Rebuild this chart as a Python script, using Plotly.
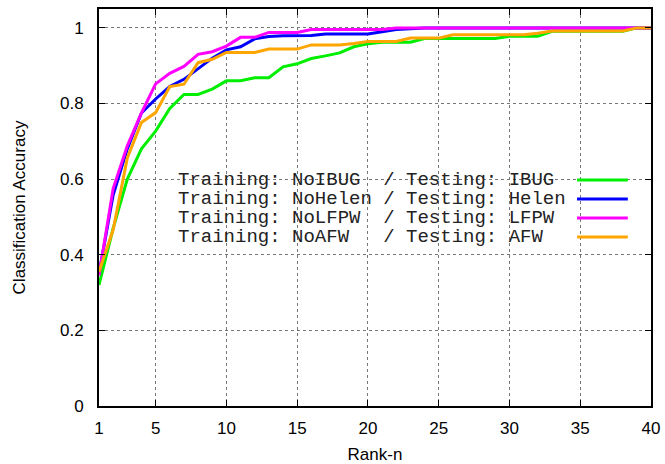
import plotly.graph_objects as go

rank = list(range(1, 41))

ibug = [0.32, 0.47, 0.60, 0.68, 0.727, 0.787, 0.824, 0.824, 0.838, 0.860,
        0.860, 0.868, 0.868, 0.897, 0.905, 0.919, 0.926, 0.934, 0.950, 0.958,
        0.962, 0.962, 0.962, 0.972, 0.972, 0.972, 0.972, 0.972, 0.972, 0.978,
        0.978, 0.978, 0.991, 0.991, 0.991, 0.991, 0.991, 0.991, 1.0, 1.0]

helen = [0.35, 0.558, 0.68, 0.775, 0.812, 0.845, 0.864, 0.893, 0.92, 0.942,
         0.95, 0.971, 0.977, 0.979, 0.979, 0.98, 0.984, 0.984, 0.984, 0.984,
         0.99, 0.996, 0.998, 1.0, 1.0, 1.0, 1.0, 1.0, 1.0, 1.0,
         1.0, 1.0, 1.0, 1.0, 1.0, 1.0, 1.0, 1.0, 1.0, 1.0]

lfpw = [0.345, 0.575, 0.688, 0.775, 0.852, 0.88, 0.898, 0.93, 0.937, 0.952,
        0.975, 0.975, 0.988, 0.988, 0.988, 0.996, 0.996, 0.996, 0.996, 0.996,
        0.996, 1.0, 1.0, 1.0, 1.0, 1.0, 1.0, 1.0, 1.0, 1.0,
        1.0, 1.0, 1.0, 1.0, 1.0, 1.0, 1.0, 1.0, 1.0, 1.0]

afw = [0.355, 0.466, 0.656, 0.75, 0.776, 0.845, 0.851, 0.908, 0.917, 0.935,
       0.935, 0.935, 0.944, 0.944, 0.944, 0.955, 0.955, 0.955, 0.959, 0.964,
       0.964, 0.964, 0.973, 0.973, 0.973, 0.982, 0.982, 0.982, 0.982, 0.982,
       0.982, 0.986, 0.992, 0.992, 0.992, 0.992, 0.992, 0.992, 1.0, 1.0]

labels = [
    "Training: NoIBUG  / Testing: IBUG",
    "Training: NoHelen / Testing: Helen",
    "Training: NoLFPW  / Testing: LFPW",
    "Training: NoAFW   / Testing: AFW",
]
colors = ["#00ee00", "#0000ff", "#ff00ff", "#ffa500"]
series = [ibug, helen, lfpw, afw]

x_ticks = [1, 5, 10, 15, 20, 25, 30, 35, 40]
y_ticks = [0, 0.2, 0.4, 0.6, 0.8, 1]
y_tick_text = ["0", "0.2", "0.4", "0.6", "0.8", "1"]

fig = go.Figure()
for ys, c, lab in zip(series, colors, labels):
    fig.add_trace(go.Scatter(x=rank, y=ys, mode="lines", name=lab,
                             line=dict(color=c, width=3), showlegend=False))

# key (gnuplot-style: text on the left, sample on the right, opaque box)
row_y = [0.5693, 0.5214, 0.4736, 0.4257]
fig.add_shape(type="rect", xref="paper", yref="paper",
              x0=0.141, x1=0.976, y0=0.400, y1=0.594,
              fillcolor="white", line=dict(width=0), layer="between")
for lab, c, ry in zip(labels, colors, row_y):
    fig.add_annotation(xref="paper", yref="paper", x=0.1413, y=ry,
                       text=lab.replace(" ", "\u00a0"), showarrow=False,
                       xanchor="left", yanchor="middle", height=18, borderpad=0,
                       font=dict(family="Liberation Mono", size=19, color="#222"))
    fig.add_shape(type="line", xref="paper", yref="paper",
                  x0=0.866, x1=0.958, y0=ry, y1=ry,
                  line=dict(color=c, width=3))

axis_common = dict(showline=True, linecolor="black", linewidth=2, mirror="allticks",
                   ticks="inside", ticklen=6, tickcolor="black", tickwidth=1,
                   showgrid=True, gridcolor="#777", griddash="dot", gridwidth=1,
                   zeroline=False, automargin=False,
                   tickfont=dict(family="Liberation Sans", size=17, color="black"))

fig.update_xaxes(range=[1, 40], tickmode="array", tickvals=x_ticks,
                 title=dict(text="Rank-n", standoff=15,
                            font=dict(family="Liberation Sans", size=17, color="black")),
                 ticklabelstandoff=6, **axis_common)
fig.update_yaxes(range=[0, 1.05], tickmode="array", tickvals=y_ticks, ticktext=y_tick_text,
                 title=dict(text="Classification Accuracy", standoff=30,
                            font=dict(family="Liberation Sans", size=17, color="black")),
                 ticklabelstandoff=10, **axis_common)

fig.update_layout(width=665, height=464,
                  margin=dict(l=99, r=14, t=9, b=58, autoexpand=False),
                  paper_bgcolor="white", plot_bgcolor="white")

fig.write_html("out.html")
